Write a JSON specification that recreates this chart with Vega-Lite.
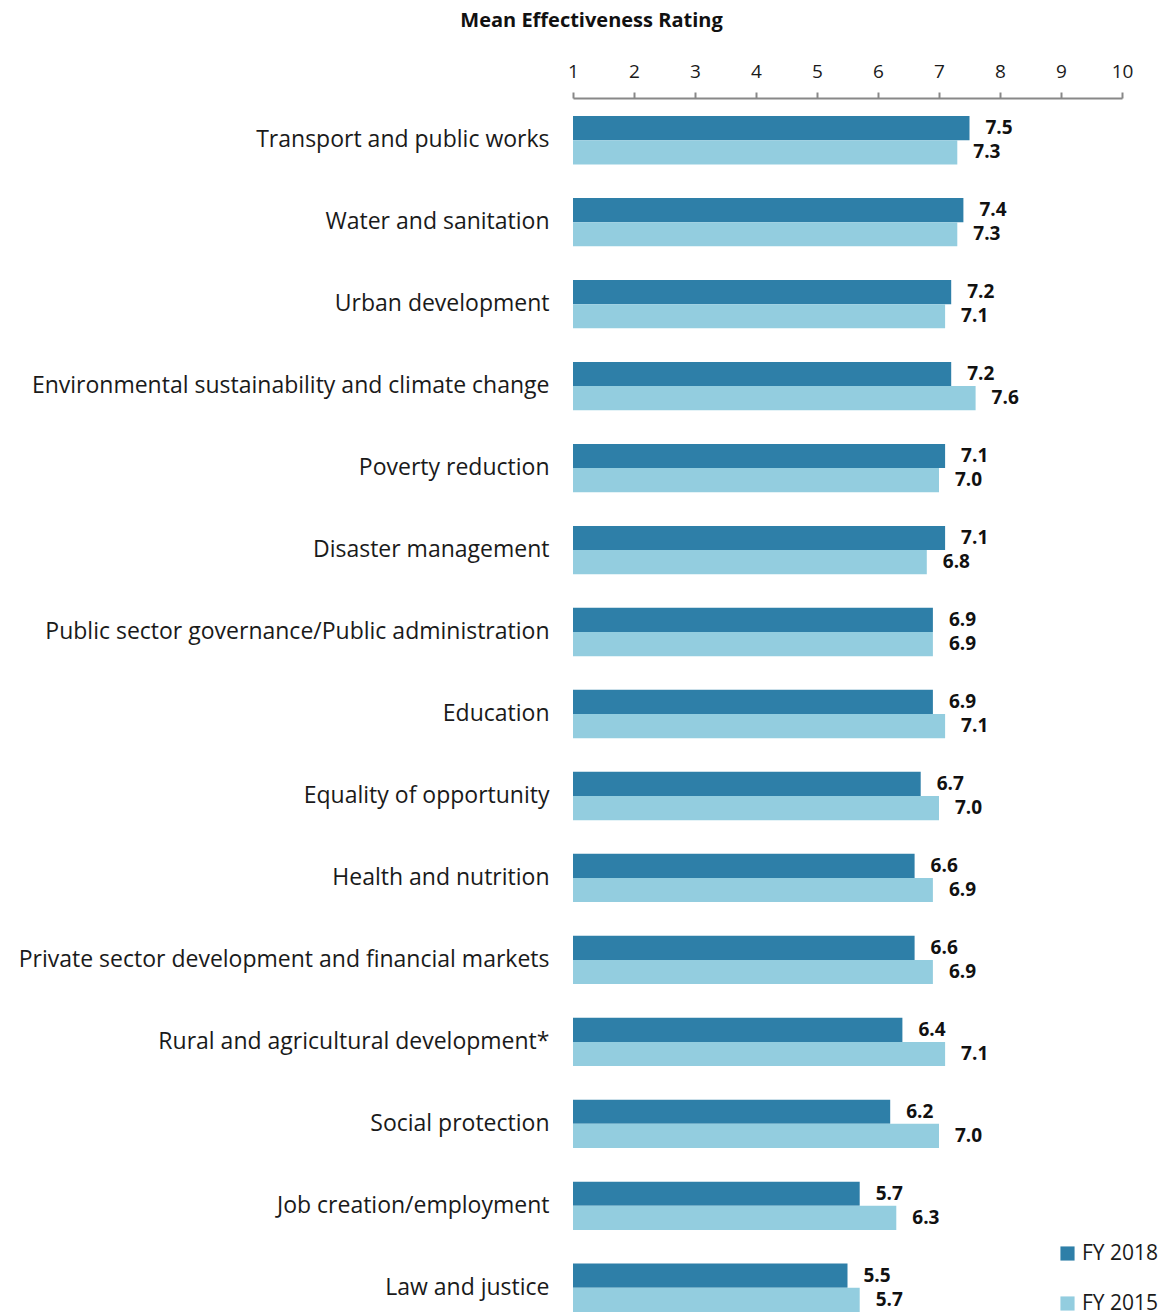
{
  "$schema": "https://vega.github.io/schema/vega-lite/v6.json",
  "autosize": {"type": "none"},
  "padding": {"left": 573, "top": 98, "right": 42, "bottom": 0},
  "width": 549,
  "height": 1232,
  "background": "white",
  "config": {"view": {"stroke": null}, "font": "Open Sans"},
  "data": {"values": [
    {"area": "Transport and public works", "series": "FY 2018", "value": 7.5},
    {"area": "Transport and public works", "series": "FY 2015", "value": 7.3},
    {"area": "Water and sanitation", "series": "FY 2018", "value": 7.4},
    {"area": "Water and sanitation", "series": "FY 2015", "value": 7.3},
    {"area": "Urban development", "series": "FY 2018", "value": 7.2},
    {"area": "Urban development", "series": "FY 2015", "value": 7.1},
    {"area": "Environmental sustainability and climate change", "series": "FY 2018", "value": 7.2},
    {"area": "Environmental sustainability and climate change", "series": "FY 2015", "value": 7.6},
    {"area": "Poverty reduction", "series": "FY 2018", "value": 7.1},
    {"area": "Poverty reduction", "series": "FY 2015", "value": 7.0},
    {"area": "Disaster management", "series": "FY 2018", "value": 7.1},
    {"area": "Disaster management", "series": "FY 2015", "value": 6.8},
    {"area": "Public sector governance/Public administration", "series": "FY 2018", "value": 6.9},
    {"area": "Public sector governance/Public administration", "series": "FY 2015", "value": 6.9},
    {"area": "Education", "series": "FY 2018", "value": 6.9},
    {"area": "Education", "series": "FY 2015", "value": 7.1},
    {"area": "Equality of opportunity", "series": "FY 2018", "value": 6.7},
    {"area": "Equality of opportunity", "series": "FY 2015", "value": 7.0},
    {"area": "Health and nutrition", "series": "FY 2018", "value": 6.6},
    {"area": "Health and nutrition", "series": "FY 2015", "value": 6.9},
    {"area": "Private sector development and financial markets", "series": "FY 2018", "value": 6.6},
    {"area": "Private sector development and financial markets", "series": "FY 2015", "value": 6.9},
    {"area": "Rural and agricultural development*", "series": "FY 2018", "value": 6.4},
    {"area": "Rural and agricultural development*", "series": "FY 2015", "value": 7.1},
    {"area": "Social protection", "series": "FY 2018", "value": 6.2},
    {"area": "Social protection", "series": "FY 2015", "value": 7.0},
    {"area": "Job creation/employment", "series": "FY 2018", "value": 5.7},
    {"area": "Job creation/employment", "series": "FY 2015", "value": 6.3},
    {"area": "Law and justice", "series": "FY 2018", "value": 5.5},
    {"area": "Law and justice", "series": "FY 2015", "value": 5.7}
  ]},
  "encoding": {
    "y": {
      "field": "area", "type": "nominal", "sort": null,
      "scale": {"paddingInner": 0.41, "paddingOuter": 0.22},
      "axis": {"title": null, "domain": false, "ticks": false, "labelFontSize": 23, "labelColor": "#1a1a1a", "labelPadding": 24, "labelLimit": 600}
    },
    "yOffset": {"field": "series", "type": "nominal", "sort": ["FY 2018", "FY 2015"], "scale": {"paddingInner": 0}}
  },
  "layer": [
    {
      "mark": {"type": "bar"},
      "encoding": {
        "x": {
          "field": "value", "type": "quantitative",
          "scale": {"domain": [1, 10], "zero": false, "nice": false},
          "axis": {
            "orient": "top", "values": [1,2,3,4,5,6,7,8,9,10], "format": "d", "grid": false,
            "domainColor": "#888888", "domainWidth": 2, "tickColor": "#888888", "tickWidth": 2, "tickSize": 6,
            "labelFontSize": 19, "labelColor": "#1a1a1a", "labelPadding": 11, "labelFlush": false,
            "title": "Mean Effectiveness Rating", "titleFontSize": 20, "titleFontWeight": "bold", "titleColor": "#111111",
            "titleX": 18, "titleY": -78, "titleAlign": "center", "titleAnchor": null, "titleBaseline": "middle"
          }
        },
        "x2": {"datum": 1},
        "color": {
          "field": "series", "type": "nominal",
          "scale": {"domain": ["FY 2018", "FY 2015"], "range": ["#2E7FA8", "#93CDDF"]},
          "legend": {
            "title": null, "orient": "none", "legendX": 484, "legendY": 1145,
            "symbolType": "square", "symbolSize": 200, "symbolStrokeWidth": 0,
            "labelFontSize": 21, "labelColor": "#1a1a1a", "labelOffset": 4, "rowPadding": 28
          }
        }
      }
    },
    {
      "mark": {"type": "text", "align": "left", "baseline": "middle", "dx": 16, "fontSize": 19, "fontWeight": "bold", "color": "#111111"},
      "encoding": {
        "x": {"field": "value", "type": "quantitative"},
        "text": {"field": "value", "type": "quantitative", "format": ".1f"}
      }
    }
  ]
}
